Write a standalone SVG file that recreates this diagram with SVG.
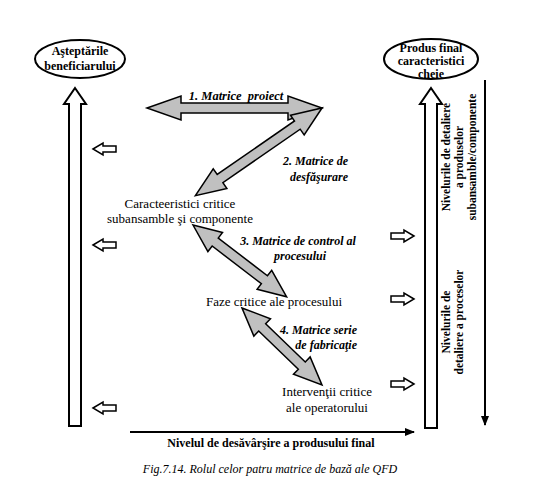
<svg xmlns="http://www.w3.org/2000/svg" width="537" height="490" viewBox="0 0 537 490" font-family="Liberation Serif, Tinos, Times New Roman, serif">
<style>
text{font-family:'Liberation Serif',Tinos,'Times New Roman',serif;fill:#000}
.b{font-weight:bold;font-size:12px}
.bi{font-weight:bold;font-style:italic;font-size:12px}
.r{font-size:13px}
.rot{font-weight:bold;font-size:11.5px}
.gray{fill:#c0c0c0;stroke:#000;stroke-width:1.5;stroke-linejoin:miter}
.hollow{fill:#fff;stroke:#000;stroke-width:2}
.small{fill:#fff;stroke:#000;stroke-width:1.5}
.line{stroke:#000;stroke-width:2;fill:none}
</style>
<defs>
<marker id="ah" markerWidth="10" markerHeight="8" refX="9" refY="4" orient="auto" markerUnits="userSpaceOnUse">
<path d="M0,0 L10,4 L0,8 Z" fill="#000"/>
</marker>
</defs>
<rect width="537" height="490" fill="#fff"/>

<g id="node-asteptari">
<ellipse cx="80" cy="59" rx="45" ry="19" fill="#fff" stroke="#000" stroke-width="2"/>
<text class="b" x="80" y="55" text-anchor="middle">Aşteptările</text>
<text class="b" x="80" y="70" text-anchor="middle">beneficiarului</text>
</g>

<g id="node-produs">
<ellipse cx="431" cy="59" rx="47" ry="20" fill="#fff" stroke="#000" stroke-width="2"/>
<text class="b" x="431" y="52" text-anchor="middle">Produs final</text>
<text class="b" x="431" y="65" text-anchor="middle">caracteristici</text>
<text class="b" x="431" y="78" text-anchor="middle">cheie</text>
</g>

<g id="node-caracteristici">
<text class="r" x="180" y="208" text-anchor="middle">Caracteeristici critice</text>
<text class="r" x="180" y="223" text-anchor="middle">subansamble şi componente</text>
</g>

<g id="node-faze">
<text class="r" x="274" y="306" text-anchor="middle">Faze critice ale procesului</text>
</g>

<g id="node-interventii">
<text class="r" x="327" y="396" text-anchor="middle">Intervenţii critice</text>
<text class="r" x="327" y="412" text-anchor="middle">ale operatorului</text>
</g>

<g id="connectors">
<!-- big hollow vertical arrows -->
<polygon class="hollow" points="75,88 86,104 81,104 81,426 69,426 69,104 64,104"/>
<polygon class="hollow" points="431,88 442,104 437,104 437,428 425,428 425,104 420,104"/>

<!-- small hollow arrows left -->
<polygon class="small" points="93,149 103,143 103,146 116,146 116,152 103,152 103,155"/>
<polygon class="small" points="93,245 103,239 103,242 116,242 116,248 103,248 103,251"/>
<polygon class="small" points="93,408 103,402 103,405 116,405 116,411 103,411 103,414"/>
<!-- small hollow arrows right -->
<polygon class="small" points="414,236 404,230 404,233 391,233 391,239 404,239 404,242"/>
<polygon class="small" points="414,299 404,293 404,296 391,296 391,302 404,302 404,305"/>
<polygon class="small" points="414,384 404,378 404,381 391,381 391,387 404,387 404,390"/>

<!-- thin arrows -->
<line class="line" x1="485" y1="80" x2="485" y2="425" marker-end="url(#ah)"/>
<line class="line" x1="130" y1="432" x2="414" y2="432" marker-end="url(#ah)"/>

<!-- gray double arrows -->
<g transform="translate(147,108)">
<polygon class="gray" points="0,0 34,-12 34,-5 141,-5 141,-12 175,0 141,12 141,5 34,5 34,12"/>
</g>
<g transform="translate(322,108) rotate(145.3)">
<polygon class="gray" points="0,0 30,-12 30,-5 124,-5 124,-12 154,0 124,12 124,5 30,5 30,12"/>
</g>
<g transform="translate(193,225) rotate(37.5)">
<polygon class="gray" points="0,0 28,-12 28,-5 90,-5 90,-12 118,0 90,12 90,5 28,5 28,12"/>
</g>
<g transform="translate(242,308) rotate(43.9)">
<polygon class="gray" points="0,0 28,-12 28,-5 83,-5 83,-12 111,0 83,12 83,5 28,5 28,12"/>
</g>

<!-- labels -->
<text class="bi" x="236" y="100" text-anchor="middle" xml:space="preserve" style="font-size:12.5px">1. Matrice  proiect</text>
<text class="bi" x="348" y="165" text-anchor="end">2. Matrice de</text>
<text class="bi" x="348" y="181" text-anchor="end">desfăşurare</text>
<text class="bi" x="298" y="245" text-anchor="middle">3. Matrice de control al</text>
<text class="bi" x="300" y="260" text-anchor="middle">procesului</text>
<text class="bi" x="357" y="334" text-anchor="end">4. Matrice serie</text>
<text class="bi" x="357" y="349" text-anchor="end">de fabricaţie</text>

<text class="rot" transform="translate(450,157) rotate(-90)" text-anchor="middle">Nivelurile de detaliere</text>
<text class="rot" transform="translate(463,157) rotate(-90)" text-anchor="middle">a  produselor</text>
<text class="rot" transform="translate(476,157) rotate(-90)" text-anchor="middle">subansamble/componente</text>
<text class="rot" transform="translate(450,322) rotate(-90)" text-anchor="middle">Nivelurile de</text>
<text class="rot" transform="translate(463,322) rotate(-90)" text-anchor="middle">detaliere a proceselor</text>

<text class="b" x="271" y="447" text-anchor="middle">Nivelul de desăvârşire a produsului final</text>
</g>

<text style="font-style:italic;font-size:12px" x="270" y="473" text-anchor="middle">Fig.7.14. Rolul celor patru matrice de bază ale QFD</text>
</svg>
